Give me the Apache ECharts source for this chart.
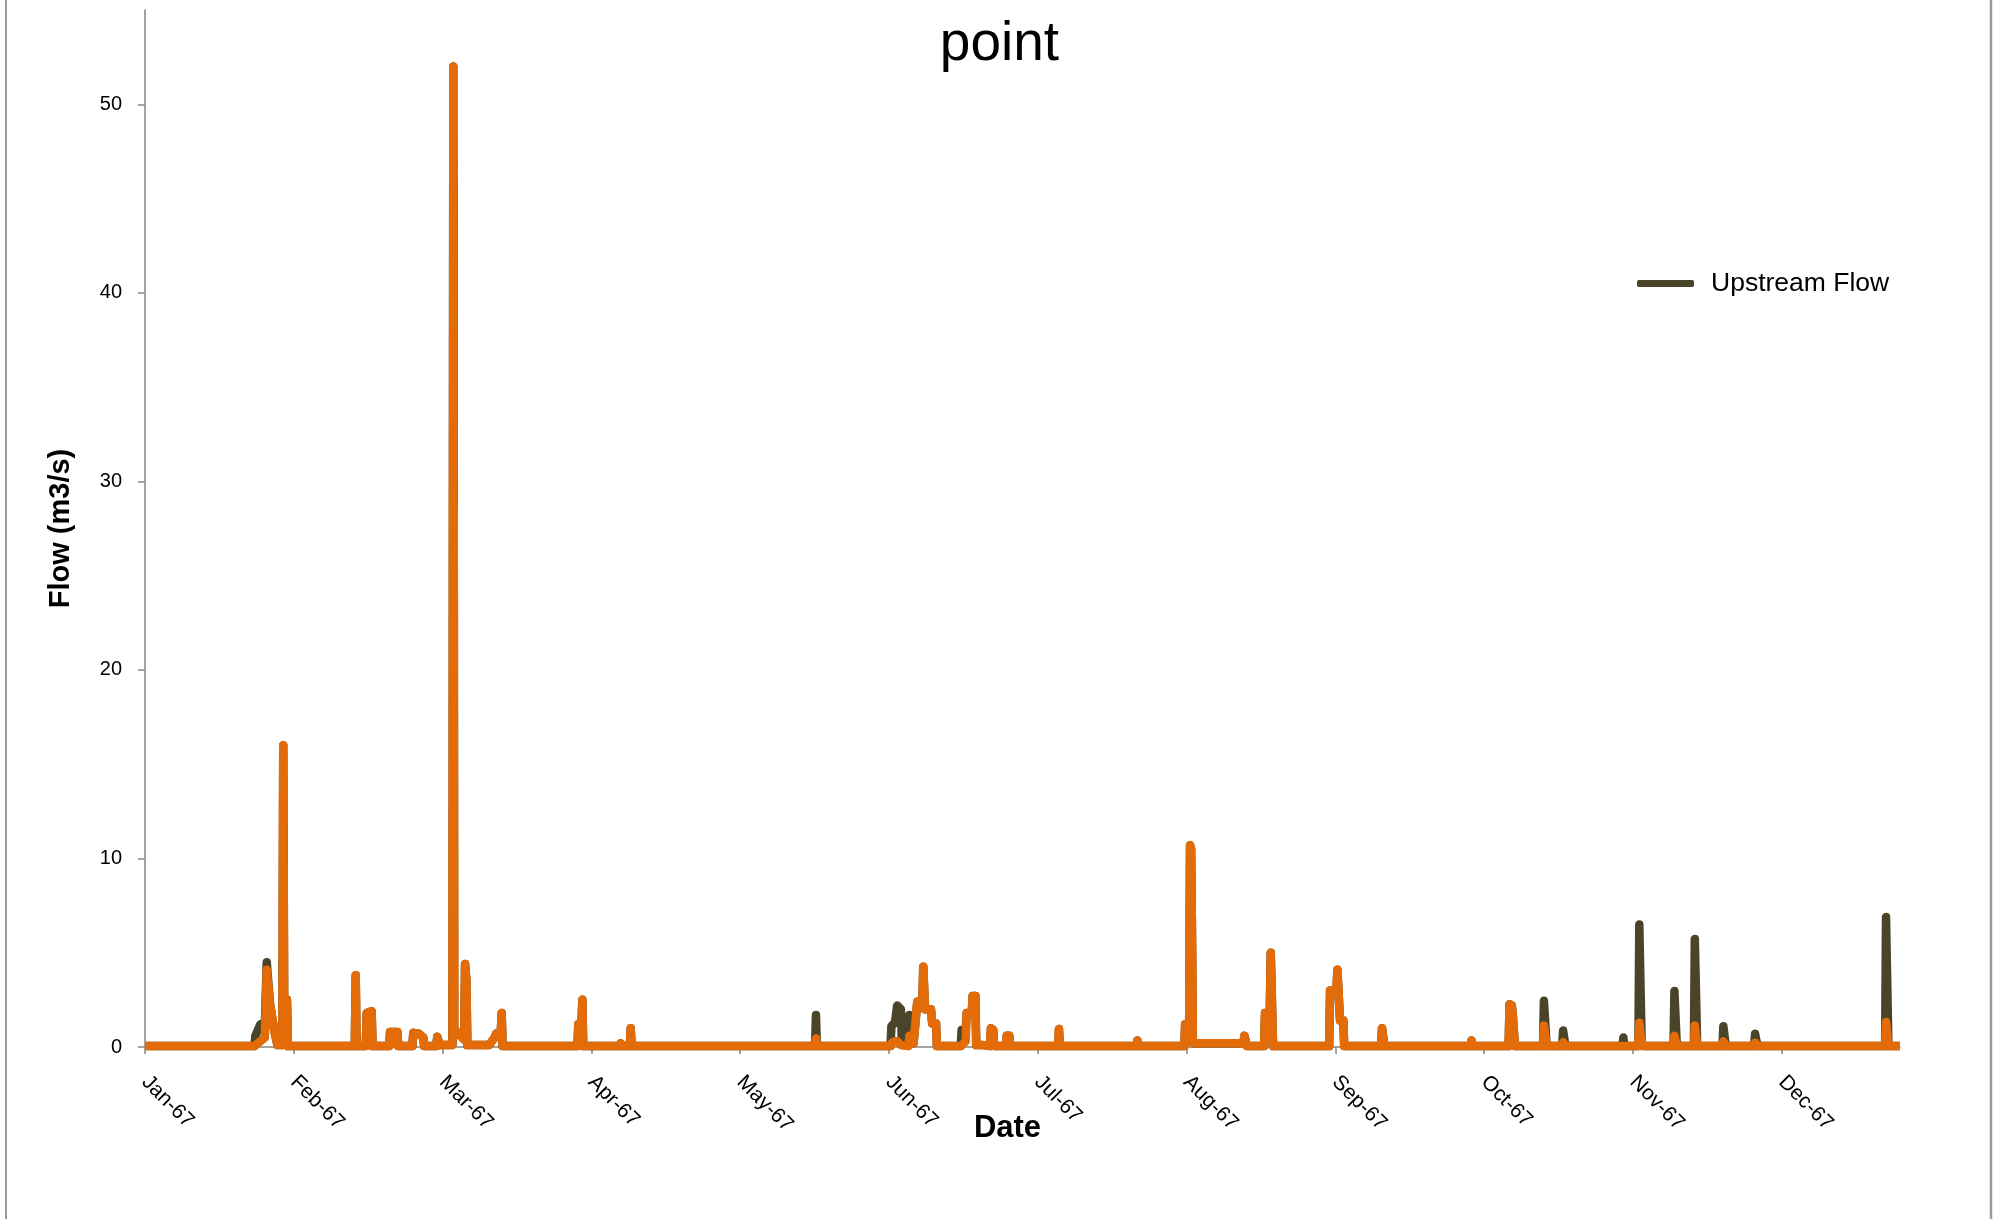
<!DOCTYPE html>
<html>
<head>
<meta charset="utf-8">
<title>point</title>
<script src="https://cdn.jsdelivr.net/npm/echarts@6/dist/echarts.min.js"></script>
<style>
html,body{margin:0;padding:0;background:#fff;}
#main{width:1999px;height:1219px;}
</style>
</head>
<body>
<div id="main"></div>
<script>
// month tick labels (axis is in month units, Jan-67 = 0)
var monthLabels = ['Jan-67','Feb-67','Mar-67','Apr-67','May-67','Jun-67','Jul-67','Aug-67','Sep-67','Oct-67','Nov-67','Dec-67'];
var monthTicks = [0,1,2,3,4,5,6,7,8,9,10,11];
var flowTicks = [0,10,20,30,40,50];

// sample positions (months since 1 Jan 1967)
var samplePos = [
 0.000,0.735,0.742,0.775,0.806,0.818,0.840,0.868,0.880,0.890,0.923,0.929,0.935,0.954,0.960,
 1.410,1.416,1.422,1.484,1.490,1.523,1.529,1.641,1.647,1.696,1.702,1.797,1.803,1.840,1.870,1.876,1.958,1.964,1.975,1.981,
 2.066,2.072,2.078,2.095,2.145,2.151,2.160,2.166,2.313,2.319,2.350,2.359,2.391,2.397,2.403,
 2.906,2.912,2.933,2.939,2.945,3.191,3.197,3.203,3.258,3.264,3.270,4.503,4.509,4.515,
 5.010,5.016,5.040,5.055,5.080,5.087,5.131,5.137,5.155,5.165,5.190,5.224,5.230,5.236,5.242,5.282,5.290,5.316,5.322,
 5.482,5.488,5.515,5.522,5.556,5.562,5.580,5.586,5.630,5.636,5.679,5.685,5.700,5.706,5.785,5.791,5.808,5.814,6.136,6.142,6.148,6.663,6.669,6.675,
 6.985,6.990,7.017,7.023,7.030,7.036,7.042,7.382,7.388,7.400,7.406,7.521,7.527,7.559,7.565,7.575,7.581,7.958,7.964,8.007,8.013,8.025,8.031,8.053,8.059,8.307,8.313,8.323,8.329,
 8.908,8.914,8.920,9.164,9.170,9.185,9.191,9.200,9.206,9.395,9.401,9.413,9.419,9.524,9.530,9.540,9.546,
 9.929,9.935,9.941,10.036,10.042,10.052,10.058,10.075,10.272,10.278,10.288,10.294,10.409,10.415,10.425,10.431,10.601,10.607,10.617,10.623,10.814,10.820,10.830,10.836,11.694,11.700,11.710,11.716,11.794
];
var upstreamFlow = [
 0.05,0.05,0.6,1.2,1.3,4.5,2.3,0.9,0.9,0.1,0.1,16.0,2.5,2.5,0.05,
 0.05,3.8,0.05,0.05,1.8,1.9,0.05,0.05,0.8,0.8,0.05,0.05,0.75,0.7,0.5,0.05,0.05,0.55,0.5,0.1,
 0.1,52.0,1.0,0.8,0.4,4.4,3.5,0.1,0.1,0.2,0.5,0.7,0.8,1.8,0.05,
 0.05,1.2,1.2,2.5,0.05,0.05,0.2,0.05,0.05,1.0,0.05,0.05,1.7,0.05,
 0.05,1.1,1.3,2.2,2.0,0.1,0.1,1.7,1.6,0.2,2.4,2.4,4.25,4.25,2.0,2.0,1.25,1.25,0.05,
 0.05,0.9,0.9,1.8,1.8,2.7,2.7,0.1,0.1,0.05,0.05,1.0,0.9,0.05,0.05,0.6,0.6,0.05,0.05,0.95,0.05,0.05,0.35,0.05,
 0.05,1.2,1.2,10.7,10.5,6.0,0.2,0.2,0.6,0.6,0.05,0.05,1.8,1.8,5.0,5.0,0.05,0.05,3.0,3.0,4.1,4.1,1.4,1.4,0.05,0.05,1.0,1.0,0.05,
 0.05,0.35,0.05,0.05,2.27,2.2,1.8,1.8,0.05,0.05,2.45,2.4,0.05,0.05,0.87,0.8,0.05,
 0.05,0.5,0.05,0.05,6.5,6.4,0.1,0.05,0.05,2.97,2.9,0.05,0.05,5.73,5.7,0.05,0.05,1.1,1.0,0.05,0.05,0.7,0.6,0.05,0.05,6.9,6.8,0.05,0.05
];
var downstreamFlow = [
 0.05,0.05,0.1,0.3,0.5,4.1,2.3,0.9,0.9,0.1,0.1,16.0,2.5,2.5,0.05,
 0.05,3.8,0.05,0.05,1.8,1.9,0.05,0.05,0.8,0.8,0.05,0.05,0.75,0.7,0.5,0.05,0.05,0.55,0.5,0.1,
 0.1,52.0,1.0,0.8,0.4,4.4,3.5,0.1,0.1,0.2,0.5,0.7,0.8,1.8,0.05,
 0.05,1.2,1.2,2.5,0.05,0.05,0.2,0.05,0.05,1.0,0.05,0.05,0.45,0.05,
 0.05,0.2,0.3,0.3,0.1,0.05,0.05,0.6,0.5,0.2,2.4,2.4,4.25,4.25,2.0,2.0,1.25,1.25,0.05,
 0.05,0.1,0.3,1.8,1.8,2.7,2.7,0.1,0.1,0.05,0.05,1.0,0.9,0.05,0.05,0.6,0.6,0.05,0.05,0.95,0.05,0.05,0.35,0.05,
 0.05,1.2,1.2,10.7,10.5,6.0,0.2,0.2,0.6,0.6,0.05,0.05,1.8,1.8,5.0,5.0,0.05,0.05,3.0,3.0,4.1,4.1,1.4,1.4,0.05,0.05,1.0,1.0,0.05,
 0.05,0.35,0.05,0.05,2.27,2.2,1.8,1.8,0.05,0.05,1.14,1.1,0.05,0.05,0.26,0.2,0.05,
 0.05,0.15,0.05,0.05,1.28,1.2,0.05,0.05,0.05,0.6,0.6,0.05,0.05,1.14,1.1,0.05,0.05,0.3,0.3,0.05,0.05,0.23,0.2,0.05,0.05,1.33,1.3,0.05,0.05
];

function pairs(xs, ys){
	var out = [];
	for (var i = 0; i < xs.length; i++) out.push([xs[i], ys[i]]);
	return out;
}

var chart = echarts.init(document.getElementById('main'));
var axisGrey = '#868686';
var option = {
	animation: false,
	backgroundColor: '#fff',
	textStyle: { fontFamily: '"Liberation Sans", Arial, sans-serif' },
	title: {
		text: 'point',
		left: 'center',
		top: 12,
		textStyle: { fontSize: 55, fontWeight: 'normal', color: '#000' }
	},
	legend: {
		left: 1632,
		top: 265,
		itemWidth: 57,
		itemHeight: 7,
		data: [{ name: 'Upstream Flow', icon: 'roundRect' }],
		textStyle: { fontSize: 26.5, color: '#000', padding: [0, 0, 0, 12] }
	},
	grid: { left: 145, right: 99, top: 10, bottom: 172 },
	xAxis: {
		type: 'value',
		min: 0,
		max: 11.794,
		name: 'Date',
		nameLocation: 'middle',
		nameGap: 66,
		nameMoveOverlap: false,
		nameTextStyle: { fontSize: 31, fontWeight: 'bold', color: '#000', padding: [0, 30, 0, 0] },
		axisLine: { show: true, lineStyle: { color: axisGrey, width: 1.5 } },
		axisTick: { show: true, length: 7, customValues: monthTicks, lineStyle: { color: axisGrey, width: 1.5 } },
		axisLabel: {
			customValues: monthTicks,
			rotate: -45,
			margin: 32,
			fontSize: 21,
			color: '#000',
			formatter: function (v) { return monthLabels[Math.round(v)]; }
		},
		splitLine: { show: false }
	},
	yAxis: {
		type: 'value',
		min: 0,
		max: 55,
		name: 'Flow (m3/s)',
		nameLocation: 'middle',
		nameGap: 70,
		nameRotate: 90,
		nameTextStyle: { fontSize: 29, fontWeight: 'bold', color: '#000' },
		axisLine: { show: true, lineStyle: { color: axisGrey, width: 1.5 } },
		axisTick: { show: true, length: 7, customValues: flowTicks, lineStyle: { color: axisGrey, width: 1.5 } },
		axisLabel: { customValues: flowTicks, margin: 23, fontSize: 20, color: '#000' },
		splitLine: { show: false }
	},
	series: [
		{
			name: 'Upstream Flow',
			type: 'line',
			showSymbol: false,
			symbol: 'none',
			color: '#4A452A',
			lineStyle: { width: 8.5, color: '#4A452A', join: 'round' },
			data: pairs(samplePos, upstreamFlow),
			z: 2
		},
		{
			name: 'Downstream Flow',
			type: 'line',
			showSymbol: false,
			symbol: 'none',
			color: '#E36C09',
			lineStyle: { width: 8.5, color: '#E36C09', join: 'round' },
			data: pairs(samplePos, downstreamFlow),
			z: 3
		}
	],
	graphic: [
		{ type: 'line', shape: { x1: 6, y1: 0, x2: 6, y2: 1219 }, style: { stroke: '#9a9a9a', lineWidth: 2 } },
		{ type: 'line', shape: { x1: 1991, y1: 0, x2: 1991, y2: 1219 }, style: { stroke: '#9a9a9a', lineWidth: 2.5 } }
	]
};
chart.setOption(option);
window.onresize = chart.resize;
</script>
</body>
</html>
